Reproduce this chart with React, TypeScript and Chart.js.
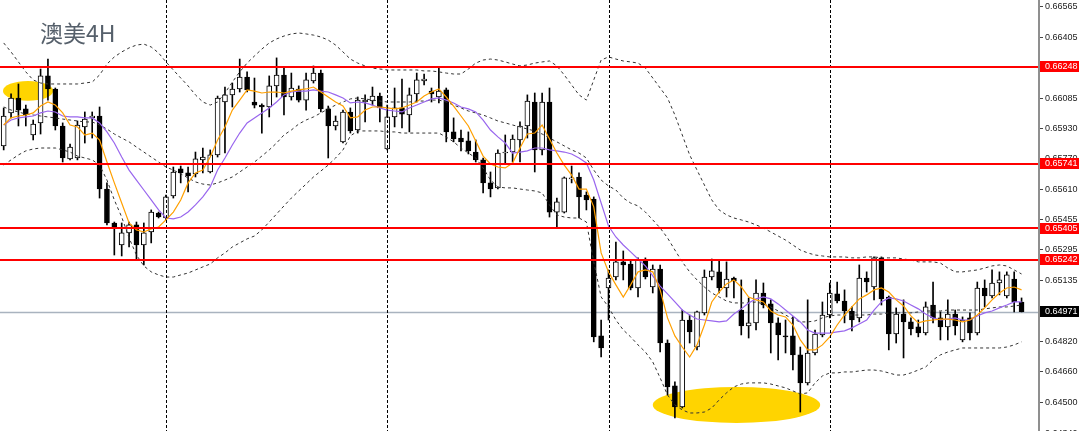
import React, { useEffect, useRef } from 'react';
import { Chart, registerables } from 'chart.js';

Chart.register(...registerables);

const chartTitle = '澳美4H';

// 4H candles, oldest first
const opens = [
  0.65835,0.66007,0.66085,0.66028,0.65892,0.65955,0.66200,0.66132,0.65939,0.65767,
  0.65772,0.65934,0.65981,0.65991,0.65610,0.65433,0.65318,0.65381,0.65423,0.65318,
  0.65386,0.65485,0.65459,0.65574,0.65715,0.65694,0.65689,0.65762,0.65699,0.65788,
  0.66064,0.66101,0.66132,0.66194,0.66064,0.66048,0.66038,0.66148,0.66205,0.66090,
  0.66132,0.66074,0.66174,0.66215,0.66028,0.65939,0.65856,0.66012,0.65918,0.66064,
  0.66069,0.66095,0.65819,0.65986,0.66033,0.65996,0.66106,0.66174,0.66121,0.66090,
  0.66127,0.65908,0.65876,0.65861,0.65803,0.65762,0.65642,0.65616,0.65798,0.65803,
  0.65866,0.65939,0.66064,0.65814,0.66064,0.65490,0.65490,0.65663,0.65673,0.65579,
  0.65558,0.64844,0.65094,0.65151,0.65230,0.65219,0.65094,0.65240,0.65099,0.65193,
  0.64807,0.64583,0.64474,0.64927,0.64786,0.64964,0.65151,0.65178,0.65094,0.65146,
  0.64979,0.64896,0.64912,0.65068,0.65011,0.64912,0.64844,0.64844,0.64745,0.64599,
  0.64755,0.64849,0.64953,0.65063,0.65026,0.64974,0.64938,0.65146,0.65099,0.65251,
  0.65047,0.64854,0.64958,0.64917,0.64891,0.64859,0.65005,0.64938,0.64891,0.64958,
  0.64823,0.64938,0.64859,0.65094,0.65052,0.65120,0.65052,0.65141,0.65021,
];
const highs = [
  0.66033,0.66106,0.66158,0.66048,0.65970,0.66236,0.66288,0.66137,0.65955,0.65845,
  0.65965,0.66012,0.66012,0.66038,0.65642,0.65438,0.65433,0.65438,0.65438,0.65433,
  0.65501,0.65490,0.65579,0.65725,0.65730,0.65725,0.65803,0.65824,0.65814,0.66095,
  0.66142,0.66163,0.66288,0.66221,0.66189,0.66054,0.66200,0.66294,0.66241,0.66215,
  0.66148,0.66215,0.66252,0.66231,0.66043,0.65991,0.66022,0.66033,0.66090,0.66101,
  0.66142,0.66111,0.66048,0.66137,0.66184,0.66137,0.66215,0.66210,0.66137,0.66247,
  0.66137,0.65981,0.65918,0.65908,0.65866,0.65772,0.65699,0.65814,0.65892,0.65892,
  0.65960,0.66101,0.66111,0.66111,0.66137,0.65563,0.65673,0.65730,0.65694,0.65595,
  0.65569,0.64927,0.65188,0.65334,0.65287,0.65240,0.65251,0.65251,0.65214,0.65214,
  0.64823,0.64604,0.64979,0.64953,0.64974,0.65188,0.65245,0.65240,0.65230,0.65151,
  0.65136,0.65042,0.65136,0.65120,0.65032,0.64938,0.64927,0.64943,0.64786,0.65032,
  0.64875,0.65021,0.65120,0.65125,0.65084,0.64995,0.65214,0.65178,0.65256,0.65256,
  0.65052,0.64990,0.65032,0.64938,0.64927,0.65021,0.65125,0.64969,0.65032,0.64979,
  0.64943,0.64964,0.65125,0.65136,0.65188,0.65178,0.65178,0.65178,0.65042,
];
const lows = [
  0.65814,0.65981,0.65939,0.65939,0.65866,0.65897,0.66074,0.65918,0.65751,0.65762,
  0.65762,0.65850,0.65876,0.65563,0.65423,0.65266,0.65261,0.65308,0.65240,0.65214,
  0.65329,0.65459,0.65449,0.65563,0.65642,0.65595,0.65673,0.65694,0.65694,0.65777,
  0.65798,0.66038,0.66116,0.66116,0.66033,0.65902,0.65986,0.66090,0.65996,0.66074,
  0.66064,0.66022,0.66163,0.66012,0.65772,0.65918,0.65850,0.65902,0.65902,0.65960,
  0.66048,0.65960,0.65814,0.65934,0.65929,0.65908,0.66064,0.66153,0.66064,0.66059,
  0.65856,0.65856,0.65809,0.65793,0.65751,0.65590,0.65569,0.65610,0.65746,0.65751,
  0.65751,0.65876,0.65699,0.65788,0.65464,0.65407,0.65485,0.65642,0.65459,0.65501,
  0.64813,0.64734,0.64927,0.65136,0.65136,0.65084,0.65047,0.65141,0.65068,0.64760,
  0.64536,0.64416,0.64468,0.64807,0.64771,0.64953,0.65136,0.65068,0.65047,0.65042,
  0.64849,0.64833,0.64875,0.64990,0.64755,0.64719,0.64755,0.64666,0.64447,0.64588,
  0.64745,0.64839,0.64938,0.65016,0.64912,0.64870,0.64917,0.65073,0.65032,0.65005,
  0.64771,0.64807,0.64729,0.64849,0.64839,0.64849,0.64912,0.64823,0.64823,0.64849,
  0.64813,0.64823,0.64849,0.64995,0.65042,0.65058,0.65042,0.64969,0.64969,
];
const closes = [
  0.65991,0.66085,0.66022,0.65996,0.65949,0.66200,0.66132,0.65939,0.65772,0.65829,
  0.65944,0.65975,0.65991,0.65610,0.65433,0.65407,0.65381,0.65423,0.65318,0.65381,
  0.65490,0.65464,0.65569,0.65699,0.65694,0.65678,0.65767,0.65777,0.65788,0.66085,
  0.66101,0.66132,0.66194,0.66127,0.66048,0.66038,0.66148,0.66205,0.66090,0.66137,
  0.66074,0.66179,0.66215,0.66028,0.65939,0.65965,0.66012,0.65913,0.66074,0.66074,
  0.66095,0.66033,0.65986,0.66033,0.66001,0.66101,0.66179,0.66184,0.66106,0.66121,
  0.65908,0.65871,0.65856,0.65809,0.65762,0.65642,0.65610,0.65798,0.65803,0.65871,
  0.65939,0.66069,0.65814,0.66064,0.65490,0.65543,0.65668,0.65668,0.65569,0.65553,
  0.64839,0.64781,0.65146,0.65230,0.65214,0.65094,0.65240,0.65151,0.65193,0.64807,
  0.64578,0.64474,0.64927,0.64865,0.64969,0.65151,0.65183,0.65094,0.65141,0.65131,
  0.64896,0.64912,0.65068,0.65005,0.64912,0.64849,0.64839,0.64745,0.64599,0.64755,
  0.64854,0.64953,0.65068,0.65026,0.64974,0.64927,0.65146,0.65125,0.65251,0.65037,
  0.64854,0.64958,0.64917,0.64880,0.64859,0.64995,0.64938,0.64891,0.64958,0.64896,
  0.64927,0.64859,0.65094,0.65052,0.65120,0.65136,0.65162,0.65021,0.64971,
];

// moving averages
const maFast = [
  0.65944,0.65981,0.65991,0.65996,0.66007,0.66043,0.66064,0.66048,0.66007,0.65944,
  0.65934,0.65892,0.65902,0.65866,0.65751,0.65642,0.65537,0.65433,0.65397,0.65386,
  0.65402,0.65412,0.65449,0.65490,0.65553,0.65642,0.65694,0.65709,0.65777,0.65866,
  0.65934,0.66022,0.66074,0.66127,0.66121,0.66111,0.66116,0.66116,0.66111,0.66121,
  0.66127,0.66132,0.66142,0.66116,0.66090,0.66064,0.66043,0.65981,0.65986,0.66022,
  0.66038,0.66038,0.66033,0.66028,0.66033,0.66048,0.66064,0.66095,0.66116,0.66132,
  0.66090,0.66043,0.65991,0.65939,0.65861,0.65782,0.65741,0.65725,0.65720,0.65746,
  0.65824,0.65897,0.65902,0.65944,0.65871,0.65798,0.65735,0.65683,0.65610,0.65610,
  0.65517,0.65277,0.65178,0.65110,0.65047,0.65110,0.65178,0.65188,0.65178,0.65084,
  0.64938,0.64844,0.64786,0.64734,0.64797,0.64901,0.65021,0.65073,0.65115,0.65136,
  0.65099,0.65047,0.65032,0.65021,0.64974,0.64953,0.64943,0.64901,0.64823,0.64771,
  0.64771,0.64797,0.64839,0.64901,0.64953,0.64995,0.65037,0.65058,0.65084,0.65094,
  0.65073,0.65032,0.65000,0.64948,0.64912,0.64922,0.64927,0.64932,0.64932,0.64927,
  0.64917,0.64927,0.64953,0.64990,0.65032,0.65068,0.65094,0.65099,0.65084,
];
const maSlow = [
  0.65944,0.65970,0.65981,0.65986,0.65991,0.66007,0.66017,0.66012,0.65991,0.65986,
  0.65986,0.65981,0.65981,0.65955,0.65908,0.65850,0.65777,0.65709,0.65657,0.65605,
  0.65553,0.65501,0.65459,0.65454,0.65464,0.65490,0.65527,0.65569,0.65621,0.65709,
  0.65772,0.65840,0.65902,0.65955,0.65981,0.66007,0.66033,0.66064,0.66101,0.66116,
  0.66121,0.66121,0.66127,0.66121,0.66116,0.66101,0.66085,0.66059,0.66064,0.66059,
  0.66048,0.66033,0.66022,0.66017,0.66012,0.66033,0.66048,0.66064,0.66080,0.66085,
  0.66074,0.66059,0.66038,0.66028,0.66012,0.65970,0.65918,0.65882,0.65850,0.65798,
  0.65803,0.65809,0.65824,0.65824,0.65814,0.65809,0.65803,0.65793,0.65772,0.65746,
  0.65657,0.65537,0.65417,0.65360,0.65318,0.65282,0.65245,0.65209,0.65157,0.65104,
  0.65063,0.65021,0.64979,0.64953,0.64932,0.64927,0.64922,0.64917,0.64922,0.64958,
  0.64985,0.65016,0.65037,0.65047,0.65037,0.65011,0.64979,0.64948,0.64917,0.64875,
  0.64859,0.64859,0.64859,0.64865,0.64870,0.64886,0.64906,0.64927,0.64979,0.65021,
  0.65042,0.65037,0.65026,0.65005,0.64985,0.64958,0.64938,0.64927,0.64932,0.64938,
  0.64927,0.64927,0.64948,0.64964,0.64974,0.64990,0.65005,0.65021,0.65021,
];

// Bollinger bands
const bandUpper = [
  0.66372,0.66325,0.66273,0.66221,0.66179,0.66163,0.66158,0.66158,0.66158,0.66158,
  0.66158,0.66163,0.66168,0.66205,0.66262,0.66299,0.66325,0.66346,0.66361,0.66366,
  0.66351,0.66320,0.66273,0.66231,0.66189,0.66148,0.66101,0.66064,0.66048,0.66064,
  0.66111,0.66168,0.66221,0.66267,0.66304,0.66340,0.66372,0.66393,0.66408,0.66419,
  0.66424,0.66419,0.66413,0.66403,0.66387,0.66361,0.66325,0.66288,0.66267,0.66252,
  0.66241,0.66236,0.66231,0.66231,0.66231,0.66231,0.66231,0.66226,0.66226,0.66221,
  0.66215,0.66210,0.66210,0.66236,0.66267,0.66283,0.66288,0.66283,0.66273,0.66262,
  0.66252,0.66257,0.66267,0.66273,0.66278,0.66252,0.66205,0.66153,0.66101,0.66074,
  0.66179,0.66283,0.66299,0.66288,0.66278,0.66273,0.66267,0.66241,0.66189,0.66137,
  0.66085,0.65996,0.65892,0.65788,0.65709,0.65631,0.65553,0.65501,0.65475,0.65459,
  0.65449,0.65438,0.65423,0.65407,0.65386,0.65365,0.65344,0.65318,0.65292,0.65277,
  0.65266,0.65261,0.65256,0.65256,0.65256,0.65251,0.65251,0.65256,0.65256,0.65251,
  0.65251,0.65251,0.65245,0.65240,0.65230,0.65230,0.65230,0.65224,0.65198,0.65178,
  0.65178,0.65183,0.65188,0.65198,0.65209,0.65214,0.65209,0.65188,0.65167,
];
const bandMiddle = [
  0.66038,0.66022,0.66012,0.66001,0.65996,0.65991,0.65986,0.65981,0.65975,0.65970,
  0.65965,0.65960,0.65960,0.65944,0.65923,0.65897,0.65876,0.65856,0.65829,0.65803,
  0.65777,0.65751,0.65725,0.65709,0.65689,0.65668,0.65647,0.65636,0.65631,0.65642,
  0.65657,0.65673,0.65699,0.65725,0.65751,0.65782,0.65814,0.65850,0.65892,0.65918,
  0.65949,0.65970,0.65986,0.66007,0.66028,0.66048,0.66064,0.66080,0.66085,0.66080,
  0.66074,0.66069,0.66064,0.66064,0.66064,0.66064,0.66069,0.66069,0.66074,0.66074,
  0.66064,0.66048,0.66033,0.66017,0.66007,0.65996,0.65981,0.65965,0.65955,0.65944,
  0.65934,0.65923,0.65913,0.65897,0.65876,0.65856,0.65835,0.65814,0.65798,0.65772,
  0.65709,0.65657,0.65626,0.65605,0.65563,0.65537,0.65522,0.65490,0.65449,0.65407,
  0.65355,0.65292,0.65230,0.65178,0.65136,0.65099,0.65068,0.65047,0.65026,0.65016,
  0.65016,0.65016,0.65021,0.65011,0.64995,0.64974,0.64953,0.64932,0.64917,0.64917,
  0.64922,0.64938,0.64948,0.64953,0.64953,0.64953,0.64953,0.64953,0.64958,0.64958,
  0.64964,0.64964,0.64964,0.64964,0.64969,0.64974,0.64974,0.64974,0.64979,0.64979,
  0.64979,0.64979,0.64979,0.64985,0.64990,0.64995,0.64995,0.65000,0.65005,
];
const bandLower = [
  0.65735,0.65762,0.65788,0.65809,0.65819,0.65824,0.65824,0.65824,0.65814,0.65803,
  0.65782,0.65772,0.65762,0.65735,0.65657,0.65553,0.65464,0.65355,0.65266,0.65209,
  0.65178,0.65162,0.65151,0.65151,0.65162,0.65172,0.65188,0.65204,0.65219,0.65251,
  0.65277,0.65308,0.65329,0.65350,0.65365,0.65397,0.65438,0.65480,0.65522,0.65563,
  0.65600,0.65636,0.65673,0.65704,0.65735,0.65772,0.65814,0.65887,0.65913,0.65913,
  0.65913,0.65913,0.65908,0.65908,0.65902,0.65902,0.65902,0.65902,0.65902,0.65902,
  0.65881,0.65856,0.65824,0.65798,0.65772,0.65720,0.65657,0.65621,0.65616,0.65616,
  0.65610,0.65605,0.65600,0.65590,0.65527,0.65475,0.65464,0.65459,0.65459,0.65438,
  0.65230,0.65047,0.64995,0.64927,0.64875,0.64839,0.64797,0.64760,0.64708,0.64625,
  0.64536,0.64484,0.64458,0.64442,0.64442,0.64447,0.64468,0.64510,0.64547,0.64578,
  0.64593,0.64599,0.64599,0.64599,0.64593,0.64583,0.64573,0.64557,0.64541,0.64547,
  0.64599,0.64635,0.64651,0.64651,0.64656,0.64656,0.64661,0.64666,0.64666,0.64661,
  0.64651,0.64640,0.64640,0.64651,0.64666,0.64682,0.64719,0.64745,0.64760,0.64771,
  0.64781,0.64781,0.64781,0.64781,0.64781,0.64781,0.64786,0.64797,0.64813,
];

// price axis
const axisTicks = [
  0.66565, 0.66405, 0.66245, 0.66085, 0.65930, 0.65770, 0.65610, 0.65455,
  0.65295, 0.65135, 0.64975, 0.64820, 0.64660, 0.64500, 0.64340,
];
const priceMin = 0.64348;
const priceMax = 0.66596;

// drawn objects
const levelLines = [0.66248, 0.65741, 0.65405, 0.65242];
const lastPrice = 0.64971;
const separatorBars = [22, 52, 82, 112];
const highlightIndex = [3.3, 99.35];
const highlightHalfSpan = [3.4, 11.35];
const highlightPrice = [0.66122, 0.64484];
const highlightHalfRange = [0.00052, 0.00094];

const slotCount = 141; // candles plus the empty right margin

export default function App() {
  const ref = useRef<HTMLCanvasElement | null>(null);

  useEffect(() => {
    const canvas = ref.current;
    if (!canvas) return;
    const n = opens.length;
    const labels = Array.from({ length: slotCount }, (_, i) => String(i));
    const pad = (arr: number[]) => labels.map((_, i) => (i < arr.length ? arr[i] : null));
    const wickData = labels.map((_, i) => (i < n ? [lows[i], highs[i]] : null));
    const bodyData = labels.map((_, i) =>
      i < n ? [Math.min(opens[i], closes[i]), Math.max(opens[i], closes[i])] : null
    );
    const bodyFill = labels.map((_, i) => (i < n && closes[i] >= opens[i] ? '#ffffff' : '#000000'));

    const overlay = {
      id: 'mt4Overlay',
      beforeDatasetsDraw(chart: any) {
        const { ctx, chartArea: a, scales } = chart;
        const x = scales.x;
        const y = scales.y;
        ctx.save();
        ctx.fillStyle = '#ffd400';
        for (let k = 0; k < highlightIndex.length; k++) {
          const cx = x.getPixelForValue(highlightIndex[k]);
          const rx = x.getPixelForValue(highlightIndex[k] + highlightHalfSpan[k]) - cx;
          const cy = y.getPixelForValue(highlightPrice[k]);
          const ry = y.getPixelForValue(highlightPrice[k] - highlightHalfRange[k]) - cy;
          ctx.beginPath();
          ctx.ellipse(cx, cy, rx, ry, 0, 0, Math.PI * 2);
          ctx.fill();
        }
        const ly = Math.round(y.getPixelForValue(lastPrice)) + 0.5;
        ctx.strokeStyle = '#a9b3bf';
        ctx.lineWidth = 1.4;
        ctx.beginPath();
        ctx.moveTo(a.left, ly);
        ctx.lineTo(a.right, ly);
        ctx.stroke();
        ctx.restore();
      },
      afterDatasetsDraw(chart: any) {
        const { ctx, chartArea: a, scales } = chart;
        const x = scales.x;
        const y = scales.y;
        ctx.save();
        ctx.strokeStyle = '#000000';
        ctx.lineWidth = 1;
        ctx.setLineDash([3, 2]);
        separatorBars.forEach((b) => {
          const px = Math.round(x.getPixelForValue(b)) + 0.5;
          ctx.beginPath();
          ctx.moveTo(px, a.top);
          ctx.lineTo(px, a.bottom);
          ctx.stroke();
        });
        ctx.setLineDash([]);
        ctx.strokeStyle = '#ff0000';
        ctx.lineWidth = 2;
        levelLines.forEach((v) => {
          const py = Math.round(y.getPixelForValue(v));
          ctx.beginPath();
          ctx.moveTo(a.left, py);
          ctx.lineTo(a.right, py);
          ctx.stroke();
        });
        ctx.restore();
      },
      afterDraw(chart: any) {
        const { ctx, chartArea: a, scales } = chart;
        const y = scales.y;
        const ax = a.right;
        ctx.save();
        ctx.strokeStyle = '#8f8f8f';
        ctx.lineWidth = 2;
        ctx.beginPath();
        ctx.moveTo(ax - 1, 0);
        ctx.lineTo(ax - 1, chart.height);
        ctx.stroke();
        ctx.font = '9px "Liberation Sans", Arial, sans-serif';
        ctx.textBaseline = 'middle';
        ctx.textAlign = 'left';
        axisTicks.forEach((v) => {
          const py = Math.round(y.getPixelForValue(v)) + 0.5;
          ctx.strokeStyle = '#444444';
          ctx.lineWidth = 1;
          ctx.beginPath();
          ctx.moveTo(ax, py);
          ctx.lineTo(ax + 3, py);
          ctx.stroke();
          ctx.fillStyle = '#1a1a1a';
          ctx.fillText(v.toFixed(5), ax + 5, py);
        });
        const box = (v: number, fill: string) => {
          const py = y.getPixelForValue(v);
          ctx.fillStyle = fill;
          ctx.fillRect(ax, Math.round(py - 5.5), 39, 11);
          ctx.fillStyle = '#ffffff';
          ctx.fillText(v.toFixed(5), ax + 5, py);
        };
        levelLines.forEach((v) => box(v, '#ff0000'));
        box(lastPrice, '#000000');
        ctx.restore();
      },
    };

    const lineStyle = (
      data: (number | null)[],
      color: string,
      order: number,
      width: number,
      dash: number[] = []
    ) => ({
      type: 'line' as const,
      data,
      borderColor: color,
      borderWidth: width,
      borderDash: dash,
      pointRadius: 0,
      tension: 0,
      fill: false,
      order,
    });

    const chart = new Chart(canvas, {
      type: 'bar',
      data: {
        labels,
        datasets: [
          { label: 'MA fast', ...lineStyle(pad(maFast), '#ffa000', 1, 1.2) },
          { label: 'MA slow', ...lineStyle(pad(maSlow), '#9966ee', 1, 1.2) },
          { label: 'BB upper', ...lineStyle(pad(bandUpper), '#333333', 2, 1, [3, 3]) },
          { label: 'BB middle', ...lineStyle(pad(bandMiddle), '#333333', 2, 1, [3, 3]) },
          { label: 'BB lower', ...lineStyle(pad(bandLower), '#333333', 2, 1, [3, 3]) },
          {
            type: 'bar',
            label: 'body',
            data: bodyData as any,
            backgroundColor: bodyFill,
            borderColor: '#000000',
            borderWidth: 1,
            borderSkipped: false,
            barThickness: 5,
            grouped: false,
            order: 3,
          },
          {
            type: 'bar',
            label: 'wick',
            data: wickData as any,
            backgroundColor: '#000000',
            borderWidth: 0,
            barThickness: 1,
            grouped: false,
            order: 4,
          },
        ] as any,
      },
      options: {
        responsive: false,
        animation: false,
        devicePixelRatio: 1,
        events: [],
        layout: { padding: { left: 0, right: 40, top: 0, bottom: 0 } },
        plugins: { legend: { display: false }, tooltip: { enabled: false } },
        scales: {
          x: { type: 'category', display: false, offset: true },
          y: { type: 'linear', display: false, min: priceMin, max: priceMax },
        },
      },
      plugins: [overlay],
    });
    return () => chart.destroy();
  }, []);

  return (
    <div
      style={{
        position: 'fixed',
        left: 0,
        top: 0,
        width: 1080,
        height: 431,
        background: '#ffffff',
        overflow: 'hidden',
      }}
    >
      <canvas ref={ref} width={1080} height={431} style={{ display: 'block', width: 1080, height: 431 }} />
      <div
        style={{
          position: 'absolute',
          left: 40,
          top: 20,
          fontFamily: '"Noto Sans CJK SC", "Noto Sans", sans-serif',
          fontSize: 23,
          lineHeight: '24px',
          color: '#56606b',
          whiteSpace: 'nowrap',
        }}
      >
        {chartTitle}
      </div>
    </div>
  );
}
